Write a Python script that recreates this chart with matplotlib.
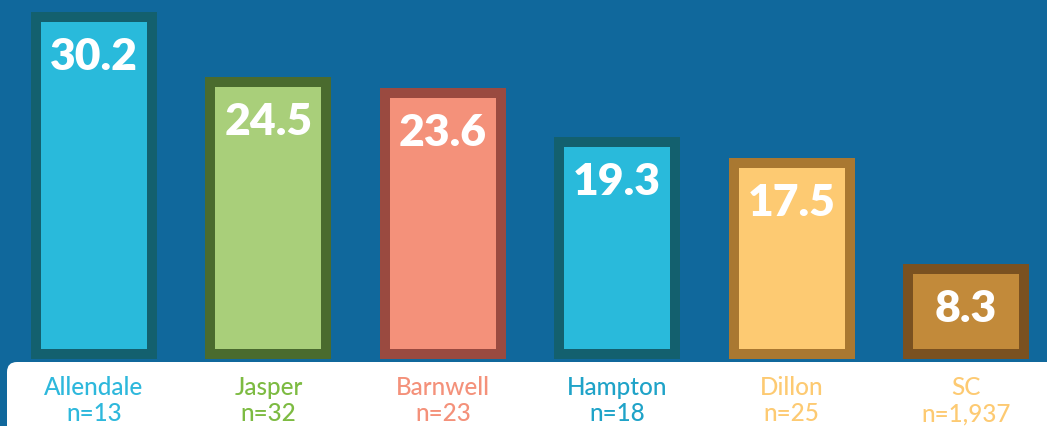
import matplotlib
matplotlib.use('Agg')
import matplotlib.pyplot as plt
from matplotlib.patches import FancyBboxPatch
from matplotlib.transforms import IdentityTransform

# data
counties = ['Allendale', 'Jasper', 'Barnwell', 'Hampton', 'Dillon', 'SC']
counts = ['n=13', 'n=32', 'n=23', 'n=18', 'n=25', 'n=1,937']
rates = [30.2, 24.5, 23.6, 19.3, 17.5, 8.3]

fills = ['#29BADB', '#A9CF7A', '#F4917A', '#29BADB', '#FDCA72', '#C28A3A']
edges = ['#13606E', '#4A6B2E', '#9A4A40', '#13606E', '#A97831', '#7A5120']
label_cols = ['#2EB8DC', '#7DBB42', '#F4917A', '#1FA3C8', '#FDCA72', '#FDCA72']

bg = '#10689C'
px_per_unit = 11.5   # vertical scale
px_per_x = 174.4     # horizontal spacing
x0 = 94              # pixel centre of first bar
border = 10 / px_per_unit

fig = plt.figure(figsize=(10.47, 4.27), dpi=100)
fig.patch.set_facecolor(bg)
ax = fig.add_axes([0, 0, 1, 1])
ax.set_facecolor(bg)
ax.set_xlim(-x0 / px_per_x, (1047 - x0) / px_per_x)
ax.set_ylim(-(427 - 360) / px_per_unit, 360 / px_per_unit)
ax.axis('off')

x = list(range(len(counties)))
outer_w = 126 / px_per_x
inner_w = 106 / px_per_x

ax.bar(x, rates, width=outer_w, color=edges, zorder=2)
ax.bar(x, [r - 2 * border for r in rates], bottom=border, width=inner_w,
       color=fills, zorder=3)

for xi, r in zip(x, rates):
    ax.text(xi, r - 44 / px_per_unit, f'{r}', ha='center', va='center',
            color='white', fontsize=32, fontweight='heavy', family='Lato',
            zorder=4)

# white label panel
panel = FancyBboxPatch((7, -20), 1100, 20 + (427 - 363),
                       boxstyle='round,pad=0,rounding_size=10',
                       facecolor='white', edgecolor='none', zorder=1)
panel.set_transform(IdentityTransform())
ax.add_patch(panel)

for xi, name, n, c in zip(x, counties, counts, label_cols):
    ax.text(xi, -(388 - 360) / px_per_unit, name, ha='center', va='center',
            color=c, fontsize=17.5, fontweight='medium', family='Lato', zorder=4)
    ax.text(xi, -(414 - 360) / px_per_unit, n, ha='center', va='center',
            color=c, fontsize=17.5, fontweight='medium', family='Lato', zorder=4)

fig.savefig('out.png', dpi=100, facecolor=bg)
